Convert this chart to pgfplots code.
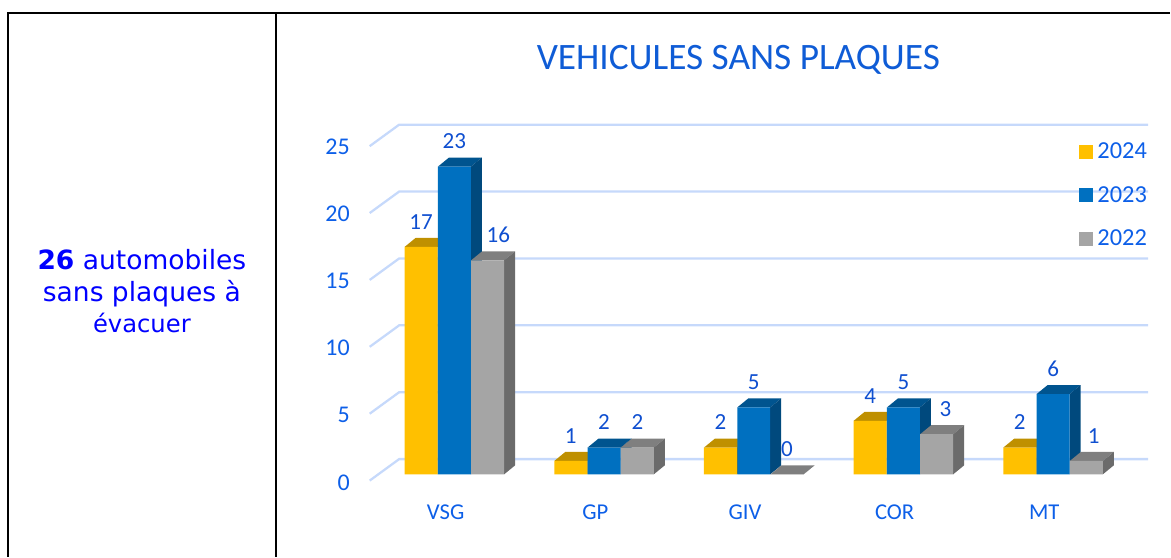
\documentclass[border=0pt]{standalone}
\usepackage{fontspec}
\setmainfont{Carlito}
\newfontfamily\verd{DejaVu Sans}
\usepackage{pgfplots}
\pgfplotsset{compat=1.18}
\definecolor{cA}{HTML}{FFC000}
\definecolor{cAtop}{HTML}{BF9000}
\definecolor{cAside}{HTML}{A67D00}
\definecolor{cB}{HTML}{0070C0}
\definecolor{cBtop}{HTML}{00548F}
\definecolor{cBside}{HTML}{00497D}
\definecolor{cC}{HTML}{A5A5A5}
\definecolor{cCtop}{HTML}{7F7F7F}
\definecolor{cCside}{HTML}{6B6B6B}
\definecolor{cGrid}{HTML}{C6D9FB}
\definecolor{cTick}{HTML}{0D5FE8}
\definecolor{cVal}{HTML}{0F4FD0}
\definecolor{cTitle}{HTML}{0F5CD6}

% top and right face of one bar: left edge of the front, value, colours
\newcommand\faces[4]{%
  \pgfmathsetmacro\xb{#1+33}\pgfmathsetmacro\xc{#1+44}\pgfmathsetmacro\xd{#1+11}\pgfmathsetmacro\vd{#2+0.672}%
  \edef\tmp{\noexpand\addplot[forget plot,draw=none,fill=#3] coordinates {(#1,#2)(\xb,#2)(\xc,\vd)(\xd,\vd)} --cycle;
    \noexpand\addplot[forget plot,draw=none,fill=#4] coordinates {(\xb,0)(\xc,0.672)(\xc,\vd)(\xb,#2)} --cycle;}\tmp}
% one grid line: tick level, level on the back wall
\newcommand\gridl[2]{\addplot[forget plot,cGrid,line width=1.7pt] coordinates {(370,#1)(399.5,#2)(1149,#2)};}

\begin{document}
\begin{tikzpicture}
\begin{axis}[
  scale only axis, width=600.75pt, height=290.25pt,
  xmin=370, xmax=1171, ymin=-1.665, ymax=27.24,
  clip=false,
  axis line style={draw=none}, major tick length=0pt,
  xtick={446,595.8,745.6,895.4,1045.2},
  xticklabels={VSG,GP,GIV,COR,MT},
  ytick={-0.62,4.41,9.44,14.47,19.5,24.5},
  yticklabels={0,5,10,15,20,25},
  /pgf/number format/assume math mode=true,
  tick label style={text=cTick},
  yticklabel style={font=\fontsize{18pt}{20pt}\selectfont, xshift=-11.5pt},
  xticklabel style={font=\fontsize{17pt}{20pt}\selectfont, yshift=-2.5pt},
  title={VEHICULES SANS PLAQUES},
  title style={at={(axis cs:739,31.12)}, anchor=center, yshift=-7.5pt, font=\fontsize{28pt}{32pt}\selectfont, text=cTitle},
  legend cell align=left,
  legend style={at={(axis cs:1075.5,25.2)}, anchor=north west, draw=none, fill=none,
    font=\fontsize{18.3pt}{20pt}\selectfont, text=cTick, row sep=15.4pt,
    /tikz/every odd column/.style={column sep=1.5pt}},
  legend image code/.code={\fill[#1] (0pt,-5.25pt) rectangle (10.5pt,5.25pt);},
  every node near coord/.append style={font=\fontsize{17.3pt}{18pt}\selectfont, text=cVal, anchor=center, yshift=18.8pt},
]
\gridl{-0.47}{1.135}
\gridl{4.53}{6.135}
\gridl{9.53}{11.135}
\gridl{14.53}{16.135}
\gridl{19.53}{21.135}
\gridl{24.53}{26.135}

% 2024
\faces{405}{17}{cAtop}{cAside}
\faces{554.8}{1}{cAtop}{cAside}
\faces{704.6}{2}{cAtop}{cAside}
\faces{854.4}{4}{cAtop}{cAside}
\faces{1004.2}{2}{cAtop}{cAside}
\addplot[ybar, bar width=33, bar shift=0pt, draw=none, fill=cA, nodes near coords]
  coordinates {(421.5,17)(571.3,1)(721.1,2)(870.9,4)(1020.7,2)};
\addlegendentry{2024}

% 2023
\faces{438.3}{23}{cBtop}{cBside}
\faces{588.1}{2}{cBtop}{cBside}
\faces{737.9}{5}{cBtop}{cBside}
\faces{887.7}{5}{cBtop}{cBside}
\faces{1037.5}{6}{cBtop}{cBside}
\addplot[ybar, bar width=33, bar shift=0pt, draw=none, fill=cB, nodes near coords]
  coordinates {(454.8,23)(604.6,2)(754.4,5)(904.2,5)(1054,6)};
\addlegendentry{2023}

% 2022
\faces{471.6}{16}{cCtop}{cCside}
\faces{621.4}{2}{cCtop}{cCside}
\faces{771.2}{0}{cCtop}{cCside}
\faces{921}{3}{cCtop}{cCside}
\faces{1070.8}{1}{cCtop}{cCside}
\addplot[ybar, bar width=33, bar shift=0pt, draw=none, fill=cC, nodes near coords,
  coordinate style/.condition={y==16}{xshift=8pt},
  coordinate style/.condition={y==3}{xshift=6.5pt},
  coordinate style/.condition={y==1}{xshift=5.5pt}]
  coordinates {(488.1,16)(637.9,2)(787.7,0)(937.5,3)(1087.3,1)};
\addlegendentry{2022}
\end{axis}

% table frame and left cell, in pixels of the reference
\begin{scope}[shift={(-277.5pt,372.75pt)}, x=0.75pt, y=-0.75pt]
  \path (0,0) rectangle (1171,557);
  \draw[black, line width=1.5pt] (8,557) -- (8,13) -- (1171,13);
  \draw[black, line width=1.5pt] (276,13) -- (276,557);
  \node[text=blue, font=\verd\fontsize{19.9pt}{24pt}\selectfont] at (142,260) {\textbf{26} automobiles};
  \node[text=blue, font=\verd\fontsize{19.9pt}{24pt}\selectfont] at (142,293.5) {sans plaques à};
  \node[text=blue, font=\verd\fontsize{18.2pt}{22pt}\selectfont] at (142,323) {évacuer};
\end{scope}
\end{tikzpicture}
\end{document}
